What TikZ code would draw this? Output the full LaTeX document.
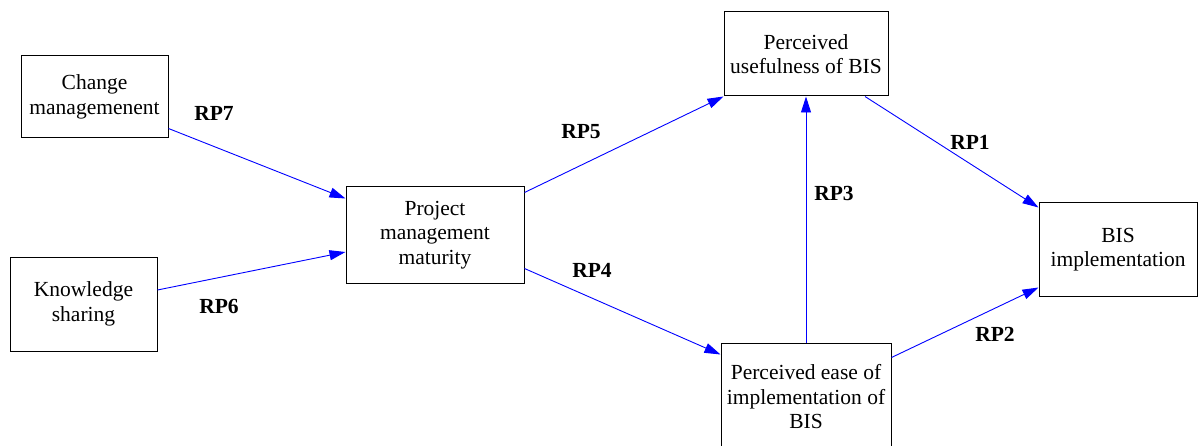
\documentclass[tikz,border=0pt]{standalone}
\usepackage{fontspec}
\setmainfont{Liberation Serif}
\newfontfamily\diagfont{Liberation Serif}
\usetikzlibrary{arrows.meta}

\begin{document}
\begin{tikzpicture}[x=1pt, y=-1pt,
    font=\diagfont\fontsize{21.5}{24.5}\selectfont,
    factor/.style={draw, line width=1pt, align=center, inner sep=0pt},
    path/.style={blue, line width=0.9pt, -{Triangle[length=16pt,width=10pt]}},
    rplabel/.style={font=\diagfont\fontsize{21.5}{24.5}\selectfont\bfseries}]

    \useasboundingbox (0,0) rectangle (1198,446);

    \node[factor, minimum width=147pt, minimum height=82pt] (chg) at (94.5,97) {Change\\managemenent};
    \node[factor, minimum width=147pt, minimum height=94pt] (ks) at (83.5,304) {Knowledge\\sharing};
    \node[factor, minimum width=178pt, minimum height=96pt] (pmm) at (435,235) {Project\\management\\maturity};
    \node[factor, minimum width=164pt, minimum height=84pt] (pu) at (806,54) {Perceived\\usefulness of BIS};
    \node[factor, minimum width=170pt, minimum height=108pt] (peoi) at (806,397) {Perceived ease of\\implementation of\\BIS};
    \node[factor, minimum width=158pt, minimum height=93pt] (bis) at (1118,249.5) {BIS\\implementation};

    \draw[path] ([yshift=10pt]chg.south east) -- ([yshift=-12pt]pmm.north west); % RP7
    \draw[path] ([yshift=14pt]ks.east) -- ([yshift=-17pt]pmm.west); % RP6
    \draw[path] ([yshift=-6pt]pmm.north east) -- (pu.south west); % RP5
    \draw[path] ([yshift=15pt]pmm.south east) -- ([yshift=-12pt]peoi.north west); % RP4
    \draw[path] (peoi.north) -- (pu.south); % RP3
    \draw[path] ([xshift=59pt]pu.south) -- ([yshift=-5pt]bis.north west); % RP1
    \draw[path] ([yshift=-15pt]peoi.north east) -- ([yshift=9pt]bis.south west); % RP2

    \node[rplabel] (rp7) at (214,113) {RP7};
    \node[rplabel] (rp6) at (219,306) {RP6};
    \node[rplabel] (rp5) at (581,132) {RP5};
    \node[rplabel] (rp4) at (592,270) {RP4};
    \node[rplabel] (rp3) at (834,193) {RP3};
    \node[rplabel] (rp1) at (970,142) {RP1};
    \node[rplabel] (rp2) at (995,334) {RP2};
\end{tikzpicture}
\end{document}
